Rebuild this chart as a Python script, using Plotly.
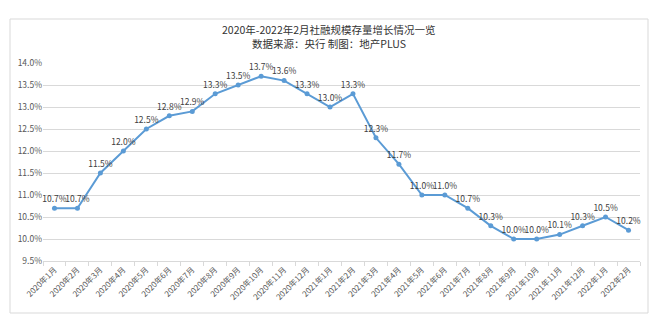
import plotly.graph_objects as go

months = ["2020年1月","2020年2月","2020年3月","2020年4月","2020年5月","2020年6月",
          "2020年7月","2020年8月","2020年9月","2020年10月","2020年11月","2020年12月",
          "2021年1月","2021年2月","2021年3月","2021年4月","2021年5月","2021年6月",
          "2021年7月","2021年8月","2021年9月","2021年10月","2021年11月","2021年12月",
          "2022年1月","2022年2月"]
growth = [10.7,10.7,11.5,12.0,12.5,12.8,12.9,13.3,13.5,13.7,13.6,13.3,
          13.0,13.3,12.3,11.7,11.0,11.0,10.7,10.3,10.0,10.0,10.1,10.3,10.5,10.2]
labels = [f"{v:.1f}%" for v in growth]
title_lines = ["2020年-2022年2月社融规模存量增长情况一览", "数据来源：央行 制图：地产PLUS"]

FONT = "Noto Sans CJK SC"

fig = go.Figure(go.Scatter(
    x=months, y=growth, mode="lines+markers+text",
    text=labels, textposition="top center",
    textfont=dict(family=FONT, size=8.5, color="#404040"),
    line=dict(color="#5B9BD5", width=2),
    marker=dict(color="#5B9BD5", size=5),
    cliponaxis=False, hoverinfo="skip",
))

L, R, T, B = 43, 17, 63, 64
W, H = 657, 325
pw, ph = W - L - R, H - T - B

def px_x(px):
    return (px - L) / pw

def px_y(py):
    return (H - B - py) / ph

annotations = [
    dict(text=title_lines[0], xref="paper", yref="paper", x=px_x(329), y=px_y(29),
         xanchor="center", yanchor="middle", showarrow=False,
         font=dict(family=FONT, size=10.5, color="#333333")),
    dict(text=title_lines[1], xref="paper", yref="paper", x=px_x(329), y=px_y(44),
         xanchor="center", yanchor="middle", showarrow=False,
         font=dict(family=FONT, size=10.5, color="#333333")),
]

fig.update_layout(
    width=W, height=H,
    margin=dict(l=L, r=R, t=T, b=B),
    paper_bgcolor="white", plot_bgcolor="white",
    showlegend=False,
    font=dict(family=FONT, color="#595959"),
    annotations=annotations,
    xaxis=dict(
        type="category", tickangle=-45,
        range=[-0.5, len(months) - 0.5], autorange=False,
        tickfont=dict(family=FONT, size=8, color="#595959"),
        showgrid=False, showline=True, linecolor="#d9d9d9", linewidth=1,
        ticks="outside", tickson="boundaries", ticklen=4, tickcolor="#d9d9d9",
    ),
    yaxis=dict(
        range=[9.5, 14.0], dtick=0.5, tick0=9.5,
        tickformat=".1f", ticksuffix="%",
        tickfont=dict(family=FONT, size=8.5, color="#595959"),
        showgrid=True, gridcolor="#d9d9d9", gridwidth=1,
        zeroline=False, showline=False, ticks="",
    ),
    shapes=[dict(
        type="rect", xref="paper", yref="paper",
        x0=px_x(10), x1=px_x(648), y0=px_y(313), y1=px_y(19),
        line=dict(color="#d9d9d9", width=1), fillcolor="rgba(0,0,0,0)",
        layer="below",
    )],
)

fig.write_html("out.html")
